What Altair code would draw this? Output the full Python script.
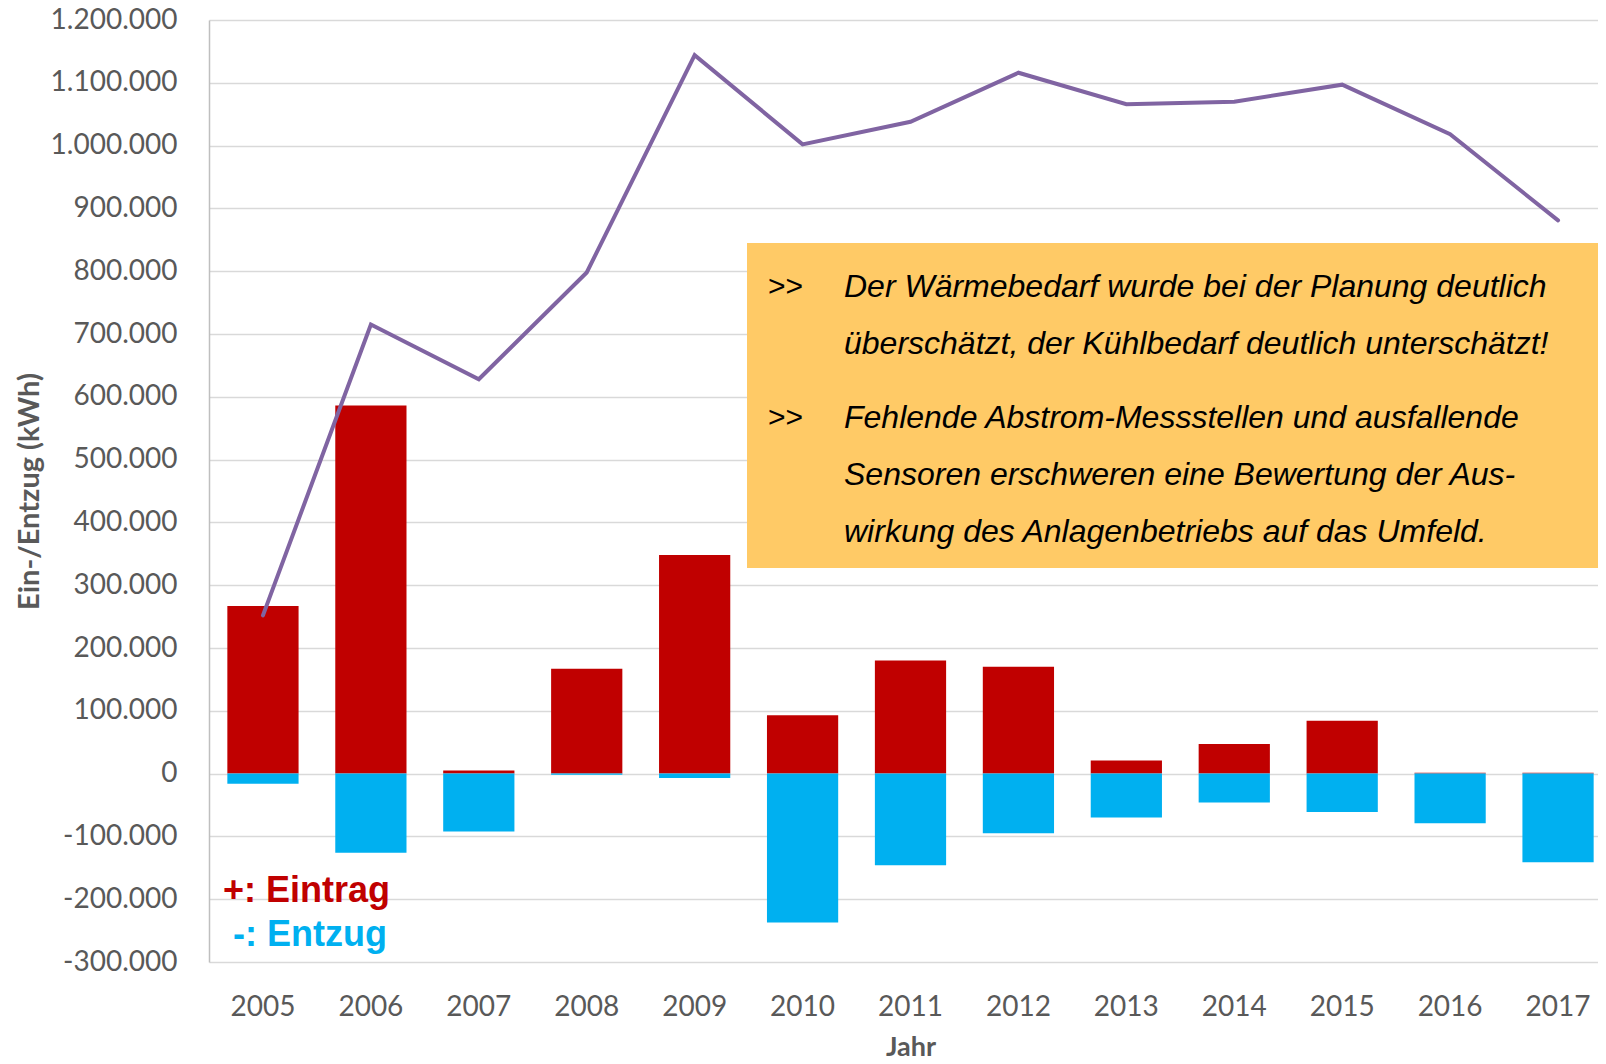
import altair as alt
import pandas as pd

years = ["2005", "2006", "2007", "2008", "2009", "2010", "2011", "2012",
         "2013", "2014", "2015", "2016", "2017"]
eintrag = [267000, 586000, 5000, 167000, 348000, 93000, 180000, 170000,
           21000, 47000, 84000, 1500, 1500]
entzug = [-16000, -126000, -92000, -2000, -7000, -237000, -146000, -95000,
          -70000, -46000, -61000, -79000, -141000]
bedarf = [252000, 715000, 628000, 798000, 1144000, 1002000, 1038000, 1116000,
          1066000, 1070000, 1097000, 1018000, 881000]

note_lines = [
    "Der Wärmebedarf wurde bei der Planung deutlich",
    "überschätzt, der Kühlbedarf deutlich unterschätzt!",
    "Fehlende Abstrom-Messstellen und ausfallende",
    "Sensoren erschweren eine Bewertung der Aus-",
    "wirkung des Anlagenbetriebs auf das Umfeld.",
]
note_y = [775500, 684000, 567000, 476000, 385000]
bullet_y = [775500, 567000]

RED = "#C00000"
BLUE = "#00B0F0"
PURPLE = "#8064A2"
GREY = "#595959"

bars = pd.DataFrame({
    "Jahr": years * 2,
    "Wert": eintrag + entzug,
    "Serie": ["Eintrag"] * len(years) + ["Entzug"] * len(years),
})
line_df = pd.DataFrame({"Jahr": years, "Wert": bedarf})

x_enc = alt.X(
    "Jahr:O",
    sort=years,
    scale=alt.Scale(paddingInner=0.34, paddingOuter=0.17, range=[0, 1403]),
    axis=alt.Axis(
        title="Jahr", labelAngle=0, labelFontSize=28, labelFont="Lato",
        labelColor=GREY, ticks=False, domain=False, labelPadding=31,
        titleFont="Lato", titleFontSize=27, titleFontWeight="bold",
        titleColor=GREY, titleY=85, titleBaseline="middle",
    ),
)
y_scale = alt.Scale(domain=[-300000, 1200000], nice=False)
y_axis = alt.Axis(
    title="Ein-/Entzug (kWh)",
    values=list(range(-300000, 1200001, 100000)),
    labelExpr="replace(replace(format(datum.value, ','), regexp(',', 'g'), '.'), '\u2212', '-')",
    labelFontSize=28, labelFont="Lato", labelColor=GREY, labelPadding=32,
    ticks=False, domain=True, domainColor="#BFBFBF", domainWidth=1.5,
    grid=True, gridColor="#D9D9D9", gridWidth=1.5,
    titleFont="Lato", titleFontSize=29, titleFontWeight="bold", titleColor=GREY,
    titleAngle=270, titleX=-180, titleY=471, titleAlign="center",
    titleBaseline="middle",
)

bar_layer = alt.Chart(bars).mark_bar().encode(
    x=x_enc,
    y=alt.Y("Wert:Q", scale=y_scale, axis=y_axis, stack=None),
    color=alt.Color("Serie:N", scale=alt.Scale(domain=["Eintrag", "Entzug"], range=[RED, BLUE]), legend=None),
)

line_layer = alt.Chart(line_df).mark_line(color=PURPLE, strokeWidth=4, strokeCap="round", strokeJoin="miter").encode(
    x=alt.X("Jahr:O", sort=years),
    y=alt.Y("Wert:Q"),
)

box = alt.Chart(pd.DataFrame({"a": [0]})).mark_rect(color="#FFCA66").encode(
    x=alt.value(538), x2=alt.value(1389),
    y=alt.datum(845000), y2=alt.datum(327500),
)

layers = [bar_layer, line_layer, box]
for by in bullet_y:
    layers.append(
        alt.Chart(pd.DataFrame({"a": [0]})).mark_text(
            text=">>", font="Liberation Sans", fontSize=30, align="left",
            baseline="middle", color="#000000",
        ).encode(x=alt.value(559), y=alt.datum(by))
    )
for txt, ty in zip(note_lines, note_y):
    layers.append(
        alt.Chart(pd.DataFrame({"a": [0]})).mark_text(
            text=txt, font="Liberation Sans", fontSize=32, fontStyle="italic",
            align="left", baseline="middle", color="#000000",
        ).encode(x=alt.value(635), y=alt.datum(ty))
    )

layers.append(
    alt.Chart(pd.DataFrame({"a": [0]})).mark_text(
        text="+: Eintrag", font="Liberation Sans", fontSize=36, fontWeight="bold",
        align="left", baseline="middle", color=RED,
    ).encode(x=alt.value(14), y=alt.datum(-187000))
)
layers.append(
    alt.Chart(pd.DataFrame({"a": [0]})).mark_text(
        text="-: Entzug", font="Liberation Sans", fontSize=36, fontWeight="bold",
        align="left", baseline="middle", color=BLUE,
    ).encode(x=alt.value(24), y=alt.datum(-257000))
)

chart = alt.layer(*layers).properties(
    width=1389, height=942,
    autosize=alt.AutoSizeParams(type="none"),
    padding={"left": 201, "top": 12, "right": 0, "bottom": 98},
).configure_view(strokeWidth=0)

chart.save("out.html", embed_options={"renderer": "svg", "actions": False})
